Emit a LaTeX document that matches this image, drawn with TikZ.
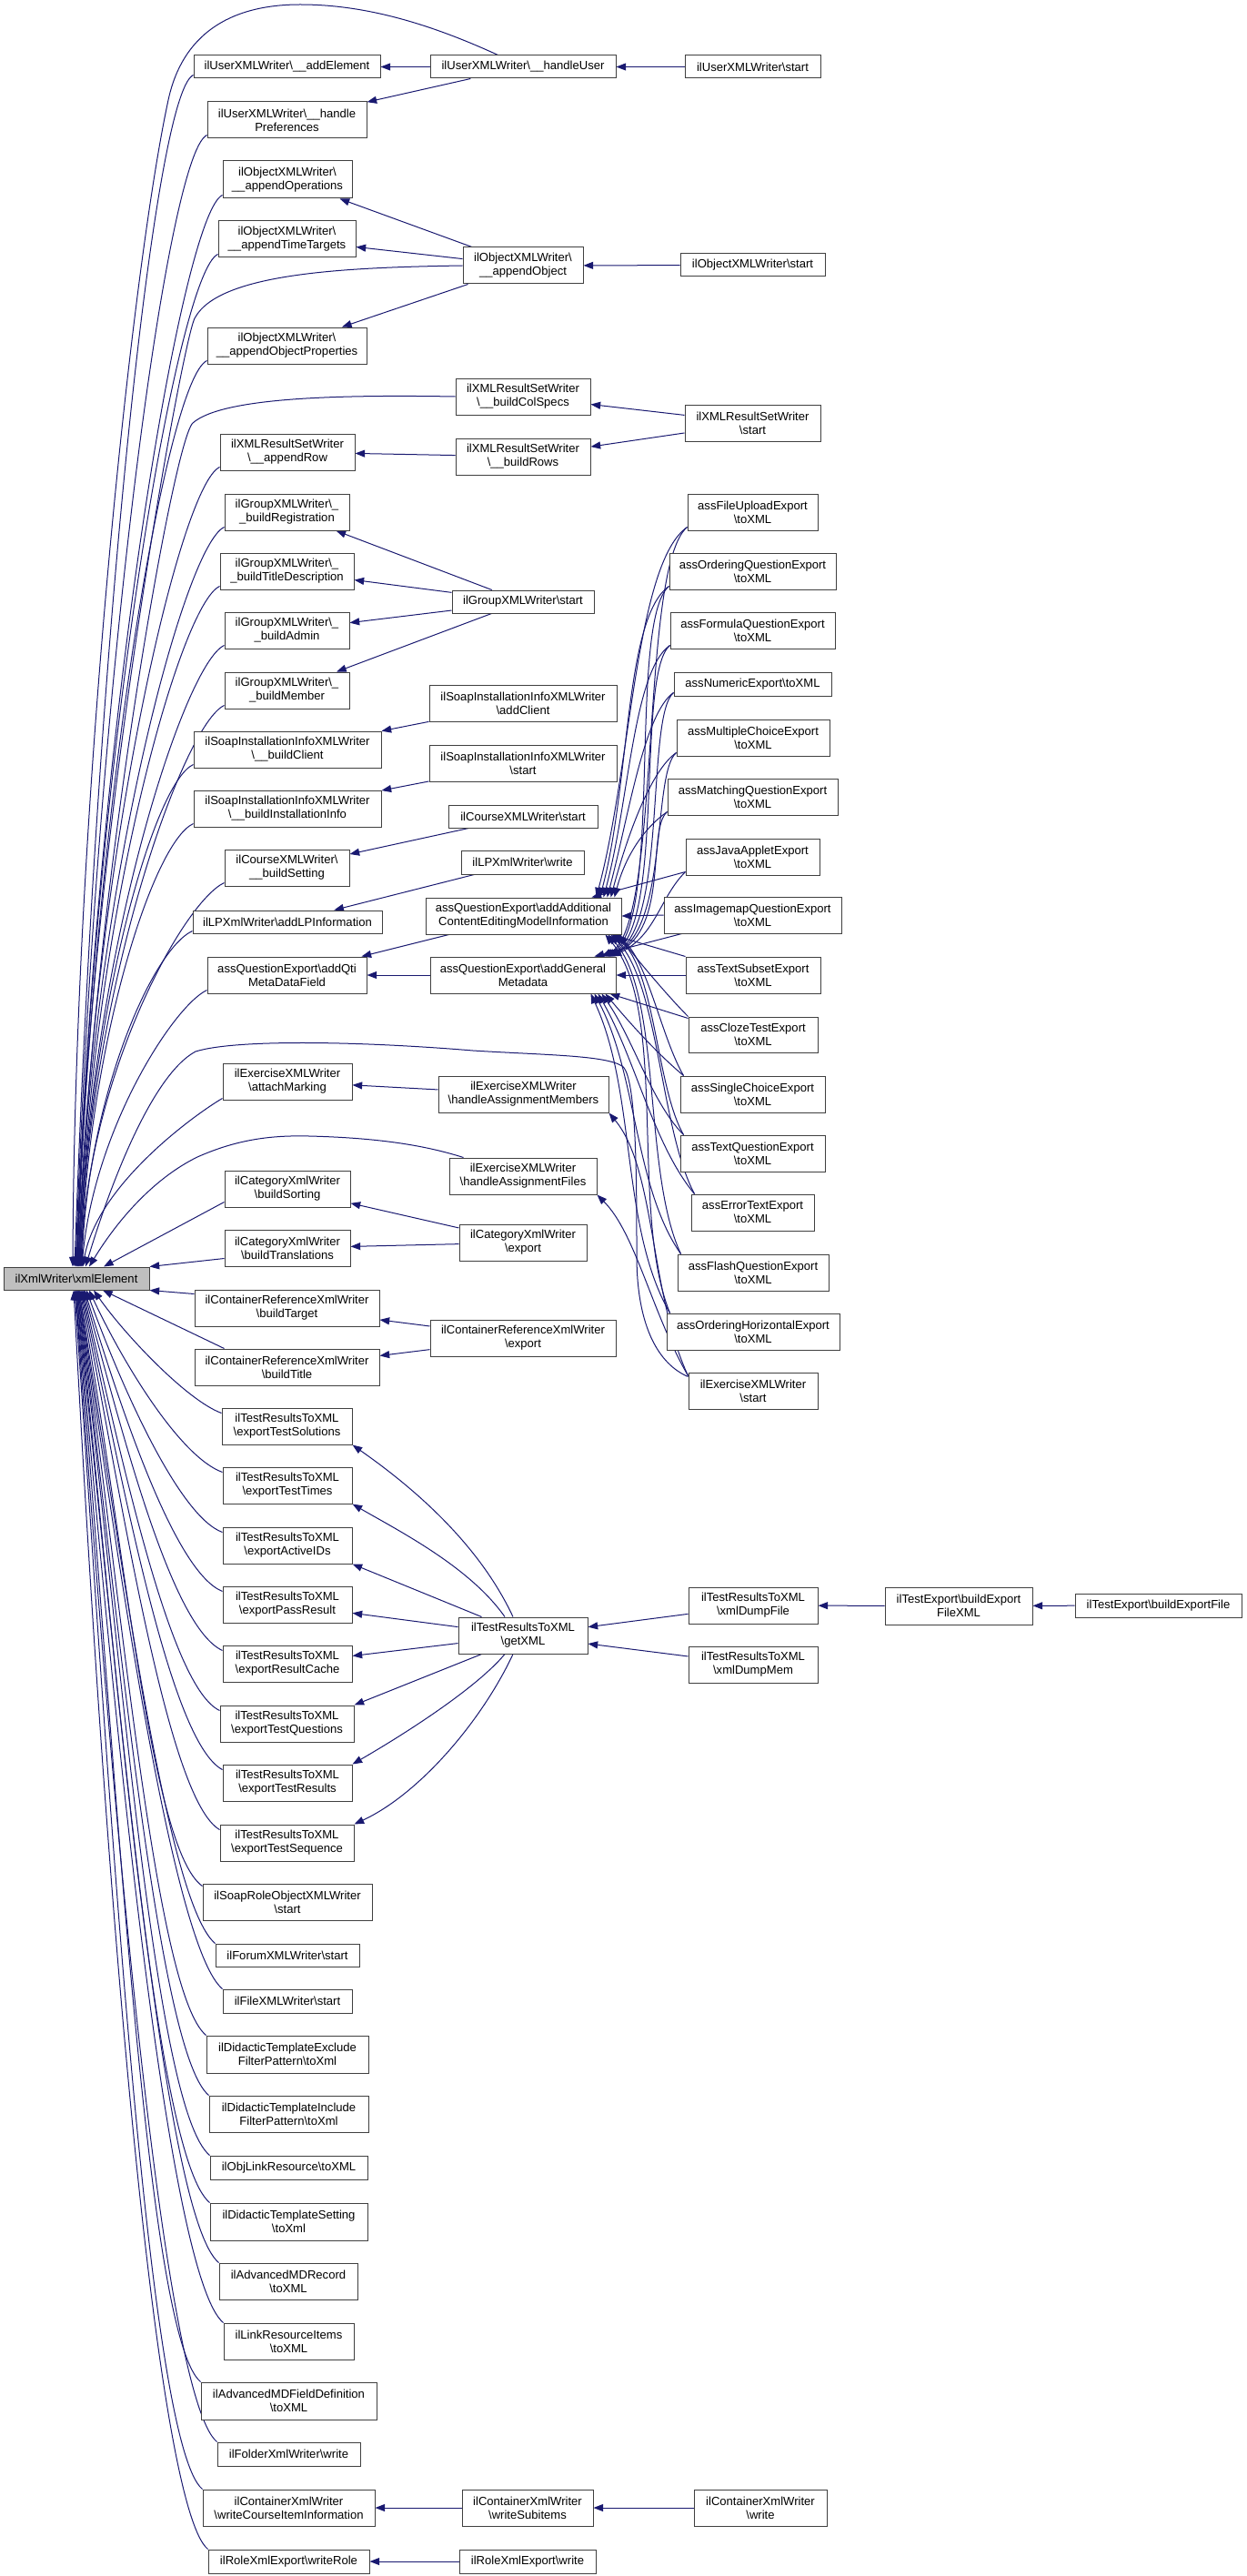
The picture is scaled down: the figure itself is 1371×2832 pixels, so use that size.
\documentclass[tikz,border=0pt]{standalone}
\usepackage{fontspec}
\setmainfont{Liberation Sans}
\usetikzlibrary{arrows.meta,calc,backgrounds}
\definecolor{edgeblue}{HTML}{191970}
\definecolor{bordergray}{HTML}{404040}
\definecolor{maingray}{HTML}{BFBFBF}
\newcommand\bksl{\textbackslash}
\newcommand\nodefont{\fontsize{4.9}{5.625}\selectfont}
\newcommand\mknode[6]{\node[box,minimum width={(#4-#2)*0.375pt},minimum height={(#5-#3)*0.375pt}] (#1) at ({(#2+#4)/2},{(#3+#5)/2}) {#6};}
\newcommand\assup[6]{%
 \draw[call] ($(#1.south west)+(0,-4)$) to[out=215,in=75,out distance=#4,in distance=#5] ($(aa.north east)+(-#2,0)$);
 \draw[call] ($(#1.south west)+(0,-4)$) to[out=220,in=25,out distance=#4,in distance=#6] ($(ag.north east)+(-#3,0)$);}
\begin{document}
\begin{tikzpicture}[x=0.375pt,y=-0.375pt,
  box/.style={draw=bordergray,line width=0.375pt,fill=white,inner sep=0pt,align=center,font=\nodefont},
  call/.style={draw=edgeblue,line width=0.375pt,-{Triangle[length=4pt,width=3pt]}},
  callr/.style={draw=edgeblue,line width=0.375pt,{Triangle[length=4pt,width=3pt]}-}]
\useasboundingbox (0,0) rectangle (1371,2832);
% main node
\node[box,fill=maingray,minimum width=60pt,minimum height=9.375pt] (xe) at (84,1405.5) {ilXmlWriter\bksl xmlElement};
% left column
\mknode{ae}{213}{61}{418}{86}{ilUserXMLWriter\bksl\_\_addElement}
\mknode{hp}{228}{112}{403}{152}{ilUserXMLWriter\bksl\_\_handle\\Preferences}
\mknode{aop}{245}{177}{387}{218}{ilObjectXMLWriter\bksl\\\_\_appendOperations}
\mknode{att}{240}{243}{391}{283}{ilObjectXMLWriter\bksl\\\_\_appendTimeTargets}
\mknode{aoprop}{228}{360}{403}{400}{ilObjectXMLWriter\bksl\\\_\_appendObjectProperties}
\mknode{arow}{242}{477}{390}{517}{ilXMLResultSetWriter\\\bksl\_\_appendRow}
\mknode{breg}{247}{543}{384}{583}{ilGroupXMLWriter\bksl\_\\\_buildRegistration}
\mknode{btd}{242}{608}{389}{648}{ilGroupXMLWriter\bksl\_\\\_buildTitleDescription}
\mknode{badm}{247}{673}{384}{713}{ilGroupXMLWriter\bksl\_\\\_buildAdmin}
\mknode{bmem}{247}{739}{384}{779}{ilGroupXMLWriter\bksl\_\\\_buildMember}
\mknode{bcl}{213}{804}{419}{844}{ilSoapInstallationInfoXMLWriter\\\bksl\_\_buildClient}
\mknode{bii}{213}{869}{419}{909}{ilSoapInstallationInfoXMLWriter\\\bksl\_\_buildInstallationInfo}
\mknode{bset}{247}{934}{384}{974}{ilCourseXMLWriter\bksl\\\_\_buildSetting}
\mknode{alp}{212}{1001}{420}{1026}{ilLPXmlWriter\bksl addLPInformation}
\mknode{aqti}{228}{1052}{403}{1092}{assQuestionExport\bksl addQti\\MetaDataField}
\mknode{amark}{245}{1169}{387}{1209}{ilExerciseXMLWriter\\\bksl attachMarking}
\mknode{bsort}{247}{1287}{385}{1327}{ilCategoryXmlWriter\\\bksl buildSorting}
\mknode{btrans}{247}{1352}{385}{1392}{ilCategoryXmlWriter\\\bksl buildTranslations}
\mknode{btarget}{214}{1418}{417}{1458}{ilContainerReferenceXmlWriter\\\bksl buildTarget}
\mknode{btitle}{214}{1483}{417}{1523}{ilContainerReferenceXmlWriter\\\bksl buildTitle}
\mknode{ets}{244}{1548}{387}{1588}{ilTestResultsToXML\\\bksl exportTestSolutions}
\mknode{ett}{245}{1613}{387}{1653}{ilTestResultsToXML\\\bksl exportTestTimes}
\mknode{eai}{245}{1679}{387}{1719}{ilTestResultsToXML\\\bksl exportActiveIDs}
\mknode{epr}{245}{1744}{387}{1784}{ilTestResultsToXML\\\bksl exportPassResult}
\mknode{erc}{245}{1809}{387}{1849}{ilTestResultsToXML\\\bksl exportResultCache}
\mknode{etq}{242}{1875}{389}{1915}{ilTestResultsToXML\\\bksl exportTestQuestions}
\mknode{etr}{245}{1940}{387}{1980}{ilTestResultsToXML\\\bksl exportTestResults}
\mknode{etseq}{242}{2006}{389}{2046}{ilTestResultsToXML\\\bksl exportTestSequence}
\mknode{srole}{223}{2071}{409}{2111}{ilSoapRoleObjectXMLWriter\\\bksl start}
\mknode{forum}{237}{2137}{395}{2162}{ilForumXMLWriter\bksl start}
\mknode{filew}{245}{2187}{387}{2213}{ilFileXMLWriter\bksl start}
\mknode{dexcl}{227}{2238}{405}{2279}{ilDidacticTemplateExclude\\FilterPattern\bksl toXml}
\mknode{dincl}{230}{2304}{405}{2344}{ilDidacticTemplateInclude\\FilterPattern\bksl toXml}
\mknode{olr}{231}{2370}{404}{2396}{ilObjLinkResource\bksl toXML}
\mknode{dset}{231}{2422}{404}{2463}{ilDidacticTemplateSetting\\\bksl toXml}
\mknode{amdr}{241}{2488}{393}{2528}{ilAdvancedMDRecord\\\bksl toXML}
\mknode{lri}{246}{2554}{389}{2594}{ilLinkResourceItems\\\bksl toXML}
\mknode{amdf}{221}{2619}{414}{2660}{ilAdvancedMDFieldDefinition\\\bksl toXML}
\mknode{folder}{239}{2685}{396}{2711}{ilFolderXmlWriter\bksl write}
\mknode{wcii}{223}{2737}{412}{2777}{ilContainerXmlWriter\\\bksl writeCourseItemInformation}
\mknode{wrole}{229}{2803}{406}{2829}{ilRoleXmlExport\bksl writeRole}
% middle column
\mknode{hu}{473}{61}{677}{86}{ilUserXMLWriter\bksl\_\_handleUser}
\mknode{ao}{509}{272}{641}{312}{ilObjectXMLWriter\bksl\\\_\_appendObject}
\mknode{bcs}{501}{416}{649}{456}{ilXMLResultSetWriter\\\bksl\_\_buildColSpecs}
\mknode{brows}{501}{482}{649}{522}{ilXMLResultSetWriter\\\bksl\_\_buildRows}
\mknode{gstart}{497}{649}{653}{674}{ilGroupXMLWriter\bksl start}
\mknode{siac}{472}{753}{678}{793}{ilSoapInstallationInfoXMLWriter\\\bksl addClient}
\mknode{sis}{472}{819}{678}{859}{ilSoapInstallationInfoXMLWriter\\\bksl start}
\mknode{cstart}{493}{885}{657}{910}{ilCourseXMLWriter\bksl start}
\mknode{lpw}{507}{935}{642}{961}{ilLPXmlWriter\bksl write}
\mknode{aa}{468}{987}{683}{1027}{assQuestionExport\bksl addAdditional\\ContentEditingModelInformation}
\mknode{ag}{473}{1052}{677}{1092}{assQuestionExport\bksl addGeneral\\Metadata}
\mknode{ham}{482}{1183}{669}{1223}{ilExerciseXMLWriter\\\bksl handleAssignmentMembers}
\mknode{haf}{494}{1273}{656}{1313}{ilExerciseXMLWriter\\\bksl handleAssignmentFiles}
\mknode{cexp}{505}{1346}{645}{1386}{ilCategoryXmlWriter\\\bksl export}
\mknode{crexp}{473}{1451}{677}{1491}{ilContainerReferenceXmlWriter\\\bksl export}
\mknode{gx}{504}{1778}{646}{1818}{ilTestResultsToXML\\\bksl getXML}
\mknode{wsub}{508}{2737}{652}{2777}{ilContainerXmlWriter\\\bksl writeSubitems}
\mknode{rxw}{505}{2803}{655}{2829}{ilRoleXmlExport\bksl write}
% right column
\mknode{ustart}{753}{61}{902}{86}{ilUserXMLWriter\bksl start}
\mknode{ostart}{748}{279}{907}{304}{ilObjectXMLWriter\bksl start}
\mknode{rsstart}{753}{445}{902}{485}{ilXMLResultSetWriter\\\bksl start}
\mknode{fu}{756}{543}{899}{583}{assFileUploadExport\\\bksl toXML}
\mknode{oq}{736}{608}{919}{648}{assOrderingQuestionExport\\\bksl toXML}
\mknode{fq}{737}{673}{918}{713}{assFormulaQuestionExport\\\bksl toXML}
\mknode{num}{741}{739}{914}{765}{assNumericExport\bksl toXML}
\mknode{mc}{744}{791}{912}{831}{assMultipleChoiceExport\\\bksl toXML}
\mknode{mq}{734}{856}{921}{896}{assMatchingQuestionExport\\\bksl toXML}
\mknode{ja}{754}{922}{901}{962}{assJavaAppletExport\\\bksl toXML}
\mknode{im}{730}{986}{925}{1026}{assImagemapQuestionExport\\\bksl toXML}
\mknode{ts}{754}{1052}{902}{1092}{assTextSubsetExport\\\bksl toXML}
\mknode{ct}{757}{1118}{899}{1157}{assClozeTestExport\\\bksl toXML}
\mknode{sc}{748}{1183}{907}{1223}{assSingleChoiceExport\\\bksl toXML}
\mknode{tq}{748}{1248}{907}{1288}{assTextQuestionExport\\\bksl toXML}
\mknode{et}{760}{1313}{895}{1353}{assErrorTextExport\\\bksl toXML}
\mknode{fl}{745}{1379}{911}{1419}{assFlashQuestionExport\\\bksl toXML}
\mknode{oh}{733}{1444}{923}{1484}{assOrderingHorizontalExport\\\bksl toXML}
\mknode{exs}{757}{1509}{899}{1549}{ilExerciseXMLWriter\\\bksl start}
\mknode{xdf}{757}{1745}{899}{1785}{ilTestResultsToXML\\\bksl xmlDumpFile}
\mknode{xdm}{757}{1810}{899}{1850}{ilTestResultsToXML\\\bksl xmlDumpMem}
\mknode{cxw}{763}{2737}{909}{2777}{ilContainerXmlWriter\\\bksl write}
\mknode{befx}{973}{1745}{1135}{1786}{ilTestExport\bksl buildExport\\FileXML}
\mknode{bef}{1182}{1752}{1365}{1778}{ilTestExport\bksl buildExportFile}

\begin{pgfonlayer}{background}
% ---- callers above xmlElement
\draw[call] ($(hu.north west)+(75,0)$) .. controls (470,25) and (400,5) .. (330,5) .. controls (250,5) and (200,40) .. (185,110) .. controls (144,300) and (82,900) .. ($(xe.north)+(-4,0)$);
\draw[call] ($(ae.south west)+(0,-4)$) to[out=205,in=88,out distance=18.5pt,in distance=245.5pt] ($(xe.north)+(-2,0)$);
\draw[call] ($(hp.south west)+(0,-4)$) to[out=205,in=88,out distance=18.5pt,in distance=233.5pt] ($(xe.north)+(-1,0)$);
\draw[call] ($(aop.south west)+(0,-4)$) to[out=205,in=88,out distance=18.5pt,in distance=221pt] ($(xe.north)+(0,0)$);
\draw[call] ($(att.south west)+(0,-4)$) to[out=205,in=88,out distance=18.5pt,in distance=209pt] ($(xe.north)+(0,0)$);
\draw[call] (ao.west) .. controls (380,294) and (240,300) .. (214,350) .. controls (200,377) and (95,950) .. ($(xe.north)+(1,0)$);
\draw[call] ($(aoprop.south west)+(0,-4)$) to[out=205,in=88,out distance=18.5pt,in distance=187pt] ($(xe.north)+(1,0)$);
\draw[call] (bcs.west) .. controls (380,434) and (245,436) .. (212,465) .. controls (190,485) and (100,1000) .. ($(xe.north)+(2,0)$);
\draw[call] ($(arow.south west)+(0,-4)$) to[out=205,in=88,out distance=18.5pt,in distance=165pt] ($(xe.north)+(2,0)$);
\draw[call] ($(breg.south west)+(0,-4)$) to[out=205,in=88,out distance=18.5pt,in distance=152.5pt] ($(xe.north)+(2,0)$);
\draw[call] ($(btd.south west)+(0,-4)$) to[out=205,in=88,out distance=18.5pt,in distance=140.5pt] ($(xe.north)+(3,0)$);
\draw[call] ($(badm.south west)+(0,-4)$) to[out=205,in=88,out distance=18.5pt,in distance=128pt] ($(xe.north)+(3,0)$);
\draw[call] ($(bmem.south west)+(0,-4)$) to[out=205,in=88,out distance=18.5pt,in distance=116pt] ($(xe.north)+(4,0)$);
\draw[call] ($(bcl.south west)+(0,-4)$) to[out=205,in=88,out distance=18.5pt,in distance=103.5pt] ($(xe.north)+(4,0)$);
\draw[call] ($(bii.south west)+(0,-4)$) to[out=205,in=88,out distance=18.5pt,in distance=91.5pt] ($(xe.north)+(5,0)$);
\draw[call] ($(bset.south west)+(0,-4)$) to[out=205,in=88,out distance=18.5pt,in distance=79pt] ($(xe.north)+(5,0)$);
\draw[call] ($(alp.south west)+(0,-3)$) to[out=205,in=88,out distance=18.5pt,in distance=69.5pt] ($(xe.north)+(6,0)$);
\draw[call] ($(aqti.south west)+(0,-4)$) to[out=205,in=85,out distance=15pt,in distance=57pt] ($(xe.north)+(6,0)$);
\draw[call] ($(amark.south west)+(0,-2)$) to[out=210,in=80,out distance=11pt,in distance=35pt] ($(xe.north)+(7,0)$);
\draw[callr] ($(xe.north)+(10,0)$) .. controls (125,1290) and (170,1180) .. (215,1156) .. controls (260,1142) and (400,1145) .. (520,1155) .. controls (600,1160) and (665,1160) .. (684,1172) .. controls (700,1182) and (700,1300) .. (700,1380) .. controls (700,1460) and (725,1500) .. ($(exs.north west)+(0,5)$);
\draw[callr] ($(xe.north)+(14,0)$) .. controls (130,1340) and (170,1295) .. (217,1272) .. controls (262,1252) and (300,1248) .. (340,1249) .. controls (420,1251) and (470,1260) .. ($(haf.north west)+(16,0)$);
\draw[call] ($(bsort.south west)+(0,-6)$) -- ($(xe.north)+(30,0)$);
\draw[call] ($(btrans.south west)+(0,-9)$) -- (xe.north east);
\draw[call] ($(btarget.north west)+(0,5)$) -- (xe.south east);
\draw[call] ($(btitle.north west)+(33,0)$) -- ($(xe.south)+(29,0)$);
% ---- callers below xmlElement
\draw[callr] ($(xe.south)+(19,0)$) to[out=-55,in=160,out distance=22.5pt,in distance=15pt] ($(ets.north west)+(0,6)$);
\draw[callr] ($(xe.south)+(14,0)$) to[out=-65,in=160,out distance=33.5pt,in distance=18.5pt] ($(ett.north west)+(0,6)$);
\draw[callr] ($(xe.south)+(11,0)$) to[out=-70,in=160,out distance=45pt,in distance=18.5pt] ($(eai.north west)+(0,6)$);
\draw[callr] ($(xe.south)+(9,0)$) to[out=-73,in=158,out distance=56pt,in distance=20.5pt] ($(epr.north west)+(0,6)$);
\draw[callr] ($(xe.south)+(8,0)$) to[out=-75,in=155,out distance=67.5pt,in distance=22.5pt] ($(erc.north west)+(0,6)$);
\draw[callr] ($(xe.south)+(7,0)$) to[out=-77,in=155,out distance=73pt,in distance=22.5pt] ($(etq.north west)+(0,6)$);
\draw[callr] ($(xe.south)+(6,0)$) to[out=-78,in=152,out distance=82.5pt,in distance=24.5pt] ($(etr.north west)+(0,6)$);
\draw[callr] ($(xe.south)+(5,0)$) to[out=-79,in=150,out distance=93.5pt,in distance=24.5pt] ($(etseq.north west)+(0,6)$);
\draw[callr] ($(xe.south)+(4,0)$) to[out=-80,in=145,out distance=105pt,in distance=26pt] ($(srole.north west)+(0,3)$);
\draw[callr] ($(xe.south)+(3,0)$) to[out=-81,in=140,out distance=112.5pt,in distance=26pt] (forum.north west);
\draw[callr] ($(xe.south)+(3,0)$) to[out=-82,in=140,out distance=120pt,in distance=26pt] (filew.north west);
\draw[callr] ($(xe.south)+(2,0)$) to[out=-82,in=140,out distance=127.5pt,in distance=27.5pt] (dexcl.north west);
\draw[callr] ($(xe.south)+(2,0)$) to[out=-83,in=140,out distance=138.5pt,in distance=27.5pt] (dincl.north west);
\draw[callr] ($(xe.south)+(1,0)$) to[out=-83,in=140,out distance=150pt,in distance=30pt] (olr.north west);
\draw[callr] ($(xe.south)+(1,0)$) to[out=-84,in=140,out distance=157.5pt,in distance=30pt] (dset.north west);
\draw[callr] ($(xe.south)+(0,0)$) to[out=-84,in=140,out distance=168.5pt,in distance=30pt] (amdr.north west);
\draw[callr] ($(xe.south)+(0,0)$) to[out=-85,in=140,out distance=180pt,in distance=30pt] (lri.north west);
\draw[callr] ($(xe.south)+(-1,0)$) to[out=-85,in=140,out distance=187.5pt,in distance=30pt] (amdf.north west);
\draw[callr] ($(xe.south)+(-1,0)$) to[out=-86,in=140,out distance=198.5pt,in distance=30pt] (folder.north west);
\draw[callr] ($(xe.south)+(-2,0)$) to[out=-86,in=140,out distance=206pt,in distance=30pt] (wcii.north west);
\draw[callr] ($(xe.south)+(-3,0)$) to[out=-87,in=140,out distance=217.5pt,in distance=30pt] (wrole.north west);
% ---- user / object / resultset writers
\draw[call] (ustart) -- (hu);
\draw[call] (hu) -- (ae);
\draw[call] (hu) -- (hp);
\draw[call] (ostart) -- (ao);
\draw[call] (ao) -- (aop);
\draw[call] (ao) -- (att);
\draw[call] (ao) -- (aoprop);
\draw[call] (rsstart) -- (bcs);
\draw[call] (rsstart) -- (brows);
\draw[call] (brows) -- (arow);
% ---- group, soap, course, LP
\draw[call] (gstart) -- (breg);
\draw[call] (gstart) -- (btd);
\draw[call] (gstart) -- (badm);
\draw[call] (gstart) -- (bmem);
\draw[call] (siac) -- (bcl);
\draw[call] (sis) -- (bii);
\draw[call] (cstart) -- (bset);
\draw[call] (lpw) -- (alp);
\draw[call] (aa) -- (aqti);
\draw[call] (ag) -- (aqti);
% ---- question exports (upper group)
\assup{fu}{28}{16}{26pt}{56pt}{27.5pt}
\assup{oq}{24}{14}{22.5pt}{48.5pt}{27.5pt}
\assup{fq}{20}{12}{18.5pt}{41pt}{27.5pt}
\assup{num}{16}{10}{15pt}{33.5pt}{27.5pt}
\assup{mc}{12}{9}{13pt}{26pt}{27.5pt}
\assup{mq}{8}{8}{11pt}{18.5pt}{27.5pt}
\draw[call] ($(ja.south west)+(0,-4)$) -- ($(aa.north east)+(-33,0)$);
\draw[call] ($(ja.south west)+(0,-4)$) to[out=225,in=25,out distance=15pt,in distance=20pt] ($(ag.north east)+(-5,0)$);
% ---- question exports (lower group)
\draw[call] (im.west) -- (aa.east);
\draw[call] ($(im.south west)+(20,0)$) -- ($(ag.north east)+(-24,0)$);
\draw[call] (ts.west) -- (ag.east);
\draw[call] (ts.north west) -- ($(aa.south east)+(-11,0)$);
\draw[call] ($(ct.north west)+(0,2)$) -- ($(ag.south east)+(-7,0)$);
\draw[call] (ct.north west) to[out=135,in=-55,out distance=11pt,in distance=11pt] ($(aa.south east)+(-3,0)$);
\draw[call] ($(sc.north west)+(4,0)$) to[out=140,in=-50,out distance=15pt,in distance=15pt] ($(ag.south east)+(-12,0)$);
\draw[call] ($(sc.north west)+(4,0)$) to[out=120,in=-40,out distance=18.5pt,in distance=17pt] ($(aa.south east)+(-6,0)$);
\draw[call] ($(tq.north west)+(4,0)$) to[out=135,in=-55,out distance=18.5pt,in distance=22.5pt] ($(ag.south east)+(-16,0)$);
\draw[call] ($(tq.north west)+(4,0)$) to[out=120,in=-40,out distance=22.5pt,in distance=22.5pt] ($(aa.south east)+(-9,0)$);
\draw[call] ($(et.north west)+(4,0)$) to[out=130,in=-60,out distance=26pt,in distance=30pt] ($(ag.south east)+(-20,0)$);
\draw[call] ($(et.north west)+(4,0)$) to[out=118,in=-45,out distance=30pt,in distance=28pt] ($(aa.south east)+(-12,0)$);
\draw[call] ($(fl.north west)+(4,0)$) to[out=125,in=-62,out distance=33.5pt,in distance=37.5pt] ($(ag.south east)+(-24,0)$);
\draw[call] ($(fl.north west)+(4,0)$) to[out=115,in=-48,out distance=37.5pt,in distance=33.5pt] ($(aa.south east)+(-15,0)$);
\draw[call] ($(oh.north west)+(4,0)$) to[out=120,in=-65,out distance=41pt,in distance=45pt] ($(ag.south east)+(-28,0)$);
\draw[call] ($(oh.north west)+(4,0)$) to[out=112,in=-50,out distance=45pt,in distance=41pt] ($(aa.south east)+(-18,0)$);
% ---- exercise, category, container reference
\draw[call] (ham) -- (amark);
\draw[call] ($(exs.north west)+(0,4)$) to[out=115,in=-50,out distance=37.5pt,in distance=30pt] (ham.south east);
\draw[call] ($(exs.north west)+(0,4)$) to[out=120,in=-45,out distance=30pt,in distance=22.5pt] (haf.south east);
\draw[call] (cexp) -- (bsort);
\draw[call] (cexp) -- (btrans);
\draw[call] (crexp) -- (btarget);
\draw[call] (crexp) -- (btitle);
% ---- test results
\draw[call] ($(gx.north)+(-11,0)$) to[out=115,in=-35,out distance=35pt,in distance=27.5pt] (ets.south east);
\draw[call] ($(gx.north)+(-20,0)$) to[out=125,in=-30,out distance=25pt,in distance=22.5pt] (ett.south east);
\draw[call] ($(gx.north west)+(26,0)$) -- (eai.south east);
\draw[call] (gx) -- (epr);
\draw[call] (gx) -- (erc);
\draw[call] ($(gx.south west)+(26,0)$) -- (etq.north east);
\draw[call] ($(gx.south)+(-20,0)$) to[out=-130,in=30,out distance=20pt,in distance=20pt] (etr.north east);
\draw[call] ($(gx.south)+(-11,0)$) to[out=-115,in=25,out distance=30pt,in distance=30pt] (etseq.north east);
\draw[call] (xdf) -- (gx);
\draw[call] (xdm) -- (gx);
\draw[call] (befx) -- (xdf);
\draw[call] (bef) -- (befx);
% ---- container / role
\draw[call] (cxw) -- (wsub);
\draw[call] (wsub) -- (wcii);
\draw[call] (rxw) -- (wrole);
\end{pgfonlayer}
\end{tikzpicture}
\end{document}
